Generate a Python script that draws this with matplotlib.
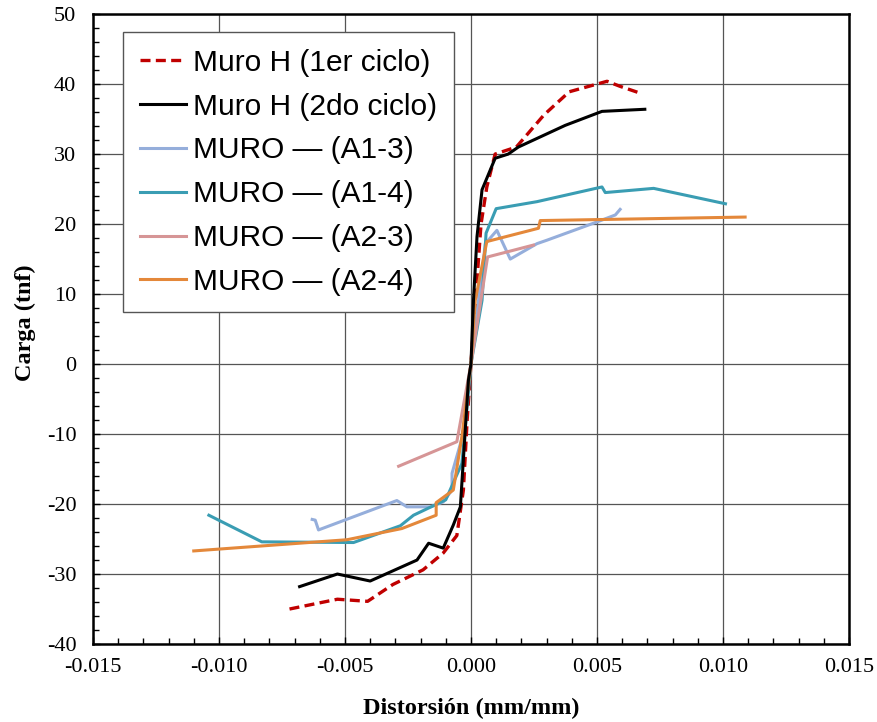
import numpy as np
import matplotlib.pyplot as plt
from matplotlib.ticker import MultipleLocator, FormatStrFormatter

plt.rcParams['axes.unicode_minus'] = False

# Muro H (1er ciclo)
x_h1 = [-0.0072, -0.0053, -0.0041, -0.0031, -0.0019, -0.0011, -0.00056, -0.0003, -0.00015, 0.0,
        0.0002, 0.0004, 0.00063, 0.00096, 0.0018, 0.0029, 0.0039, 0.0049, 0.0054, 0.0059, 0.0068]
y_h1 = [-35.0, -33.6, -33.9, -31.5, -29.4, -27.0, -24.5, -18.0, -8.0, 0.0,
        10.0, 20.0, 25.3, 30.0, 31.0, 35.6, 38.9, 39.9, 40.4, 39.7, 38.6]

# Muro H (2do ciclo)
x_h2 = [-0.0068, -0.0053, -0.0040, -0.00214, -0.00168, -0.0011, -0.0007, -0.00042, -0.0001, 0.0,
        0.0001, 0.00024, 0.00044, 0.00096, 0.00148, 0.00188, 0.00374, 0.0052, 0.0069]
y_h2 = [-31.8, -30.0, -31.0, -28.0, -25.6, -26.3, -23.0, -20.4, -2.3, 0.0,
        9.1, 18.2, 24.9, 29.4, 30.0, 31.0, 34.1, 36.1, 36.4]

# MURO (A1-3)
x_a13 = [-0.0063, -0.00618, -0.00605, -0.00294, -0.00254, -0.0016, -0.0011, -0.00075, -0.00075, -0.0003, 0.0,
         0.00057, 0.00103, 0.00156, 0.00262, 0.00302, 0.0050, 0.00573, 0.00592]
y_a13 = [-22.2, -22.3, -23.7, -19.5, -20.4, -20.4, -19.7, -18.0, -15.6, -9.9, 0.0,
         17.2, 19.1, 15.0, 17.2, 17.7, 20.3, 21.3, 22.1]

# MURO (A1-4)
x_a14 = [-0.0104, -0.0083, -0.00466, -0.0028, -0.00228, -0.0010, -0.00036, 0.0,
         0.00044, 0.0006, 0.0010, 0.00262, 0.0052, 0.00533, 0.00725, 0.0101]
y_a14 = [-21.6, -25.4, -25.5, -23.1, -21.6, -19.4, -14.2, 0.0,
         9.1, 18.7, 22.2, 23.2, 25.3, 24.5, 25.1, 22.9]

# MURO (A2-3)
x_a23 = [-0.00287, -0.00056, 0.0, 0.00066, 0.00248]
y_a23 = [-14.6, -11.1, 0.0, 15.3, 17.0]

# MURO (A2-4)
x_a24 = [-0.0110, -0.00492, -0.00274, -0.00138, -0.00138, -0.0007, -0.00036, 0.0,
         0.00017, 0.00063, 0.00268, 0.00275, 0.01088]
y_a24 = [-26.7, -25.1, -23.5, -21.6, -19.8, -18.0, -10.4, 0.0,
         9.1, 17.5, 19.4, 20.5, 21.0]

fig = plt.figure(figsize=(8.77, 7.22), dpi=100)
ax = fig.add_axes([0.106, 0.108, 0.862, 0.8725])

ax.plot(x_h1, y_h1, color='#C00000', lw=2.4, ls=(0, (3, 1.6)), label='Muro H (1er ciclo)', zorder=3)
ax.plot(x_h2, y_h2, color='black', lw=2.2, label='Muro H (2do ciclo)', zorder=4)
ax.plot(x_a13, y_a13, color='#95AEDB', lw=2.2, label='MURO — (A1-3)', zorder=3)
ax.plot(x_a14, y_a14, color='#3A9DB3', lw=2.2, label='MURO — (A1-4)', zorder=3)
ax.plot(x_a23, y_a23, color='#D69596', lw=2.2, label='MURO — (A2-3)', zorder=3)
ax.plot(x_a24, y_a24, color='#E4883A', lw=2.2, label='MURO — (A2-4)', zorder=3)

ax.set_xlim(-0.015, 0.015)
ax.set_ylim(-40, 50)
ax.xaxis.set_major_locator(MultipleLocator(0.005))
ax.xaxis.set_minor_locator(MultipleLocator(0.001))
ax.yaxis.set_major_locator(MultipleLocator(10))
ax.yaxis.set_minor_locator(MultipleLocator(2))
ax.xaxis.set_major_formatter(FormatStrFormatter('%.3f'))
ax.grid(True, which='major', color='#555555', lw=0.9)
ax.tick_params(which='both', direction='in', labelsize=16)
ax.tick_params(axis='y', which='major', length=5, width=1, pad=12)
ax.tick_params(axis='x', which='major', length=5, width=1, pad=10)
ax.tick_params(which='minor', length=4, width=1)
for lab in ax.get_xticklabels() + ax.get_yticklabels():
    lab.set_fontfamily('Liberation Serif')
for s in ax.spines.values():
    s.set_linewidth(1.8)

ax.set_xlabel('Distorsión (mm/mm)', fontsize=17.5, fontweight='bold', family='Liberation Serif')
ax.set_ylabel('Carga (tnf)', fontsize=17.5, fontweight='bold', family='Liberation Serif')
ax.xaxis.set_label_coords(0.5, -0.085)
ax.yaxis.set_label_coords(-0.075, 0.51)

leg = ax.legend(loc='upper left', bbox_to_anchor=(0.04, 0.971), borderaxespad=0,
                prop={'family': 'Liberation Sans', 'size': 21.5}, fancybox=False,
                edgecolor='#555555', framealpha=1, handlelength=1.55, labelspacing=0.53,
                borderpad=0.55, handletextpad=0.25)
leg.get_frame().set_linewidth(1.0)

fig.savefig('out.png', dpi=100)
